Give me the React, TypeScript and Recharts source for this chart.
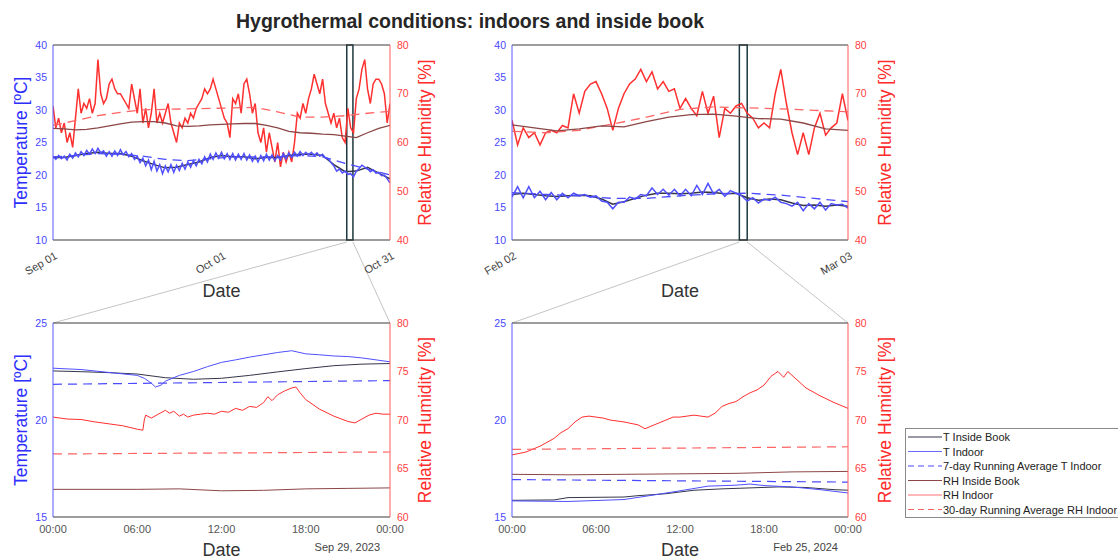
import React from "react";
import { LineChart, Line, XAxis, YAxis, ReferenceLine, ReferenceArea } from "recharts";

const FONT = '"Liberation Sans", Arial, Helvetica, sans-serif';

// ---- legend ----
const seriesNames = [
  "T Inside Book",
  "T Indoor",
  "7-day Running Average T Indoor",
  "RH Inside Book",
  "RH Indoor",
  "30-day Running Average RH Indoor",
];

// ---- Sep 01 – Oct 31, 2023 (x = days since Sep 01) ----
const sepTickDays = [0, 30, 60];
const sepTickLabels = ["Sep 01", "Oct 01", "Oct 31"];
const sepZoomDays = [52.3, 53.4];

// every 12 h
const sepRhIndoor = [
  67.5, 63, 65, 62, 64, 60, 62, 59, 65, 71, 66, 68, 67, 69, 66, 68, 77, 70, 68, 69,
  72, 73, 71, 70, 70, 69, 68, 67, 72, 69, 66, 71, 64, 67, 63, 66, 71, 64, 66, 64,
  66, 68, 64, 62, 60, 64, 63, 65, 64, 66, 65, 67, 68, 69, 71, 70, 71, 73, 71, 69,
  67, 65, 64, 61, 69, 68, 70, 66, 72, 73, 70, 66, 68, 62, 60, 63, 58, 62, 59, 56,
  60, 55, 58, 56, 58, 56, 60, 66, 65, 68, 66, 69, 71, 74, 72, 70, 73, 68, 66, 64,
  66, 63, 65, 61, 60, 67, 63, 62, 69, 71, 75, 77, 71, 68, 72, 73, 73, 72, 70, 64,
  68,
];
const sepTIndoor = [
  22.9, 22.4, 23.0, 22.5, 22.9, 22.3, 23.2, 22.6, 23.4, 22.8, 23.6, 23.0, 23.8, 23.2, 24.0, 23.3,
  24.1, 23.4, 23.7, 22.9, 23.6, 22.9, 23.7, 23.0, 23.9, 23.1, 23.6, 22.8, 23.3, 22.4, 22.9, 21.9,
  22.6, 21.4, 22.3, 20.8, 22.1, 20.6, 21.6, 20.2, 21.4, 20.5, 21.6, 20.4, 21.5, 20.7, 21.8, 20.9,
  22.0, 21.2, 22.2, 21.4, 22.4, 21.7, 22.8, 22.0, 23.2, 22.4, 23.4, 22.6, 23.5, 22.5, 23.3, 22.4,
  23.3, 22.3, 23.2, 22.4, 23.3, 22.3, 23.1, 22.1, 22.9, 22.0, 23.0, 22.2, 23.2, 22.3, 23.1, 22.2,
  23.0, 22.3, 23.3, 22.5, 23.4, 22.7, 23.5, 22.9, 23.6, 23.0, 23.5, 23.1, 23.5, 23.0, 23.4, 22.9,
  23.2, 22.6, 22.5, 21.9, 21.4, 20.6, 20.9, 20.3, 20.6, 20.1, 20.2, 19.7, 20.6, 21.0, 21.5, 21.2,
  21.0, 20.5, 20.8, 20.3, 20.4, 19.9, 20.0, 19.4, 18.8,
];
// every 2 days
const sepTBook = [
  22.7, 22.7, 23.0, 23.3, 23.5, 23.3, 23.3, 22.9, 22.2, 21.6, 21.1, 21.2, 21.6, 22.0, 22.7, 23.0,
  22.8, 22.8, 22.5, 22.7, 22.7, 23.0, 23.2, 23.2, 23.0, 21.6, 20.5, 20.6, 21.2, 20.3, 19.4,
];
const sepRhBook = [
  62.9, 62.8, 62.6, 62.7, 63.0, 63.4, 63.8, 64.2, 64.3, 64.3, 64.0, 63.4, 63.3, 63.4, 63.6, 63.7,
  63.8, 63.9, 63.9, 63.5, 63.0, 62.3, 62.0, 61.9, 61.7, 61.6, 61.3, 61.0, 62.0, 62.9, 63.5,
];
// every 4 days
const sepTAvg = [22.8, 23.0, 23.3, 23.2, 22.9, 22.4, 22.2, 22.5, 22.8, 22.8, 22.8, 23.0, 22.8, 21.8, 20.9, 20.0];
const sepRhAvg = [63.5, 64.5, 65.5, 66.2, 66.7, 66.8, 66.9, 67.0, 67.1, 67.2, 66.3, 65.2, 65.2, 65.5, 66.0, 66.4];

// ---- Feb 02 – Mar 03, 2024 (x = days since Feb 02) ----
const febTickDays = [0, 30];
const febTickLabels = ["Feb 02", "Mar 03"];
const febZoomDays = [20.3, 21.0];

// every 12 h
const febRhIndoor = [
  64.6, 59.5, 63, 61, 62, 59.5, 62, 62.5, 62, 63.5, 63, 70, 66, 70.5, 72, 72.5, 70, 67, 62.5, 67,
  70, 72, 73, 75, 72.5, 74.5, 71, 72.5, 70.5, 71, 67, 69, 67, 65.5, 70.5, 66, 69.5, 61, 67, 66,
  67.5, 68, 66, 65, 63, 64, 63, 70, 75, 68, 62, 57.5, 62, 57.5, 63, 66, 61.5, 63, 64, 70, 64.5,
];
const febTIndoor = [
  16.6, 18.2, 16.5, 18.2, 16.5, 17.5, 16.2, 17.3, 16.2, 17.2, 16.5, 17.2, 16.8, 17.0, 16.6, 16.8,
  16.0, 15.8, 14.8, 15.8, 15.8, 16.6, 16.3, 17.0, 16.8, 18.0, 17.0, 17.8, 16.9, 17.8, 16.8, 17.8,
  16.8, 18.4, 17.0, 18.7, 17.1, 17.8, 16.7, 17.6, 17.2, 16.8, 16.0, 16.5, 15.7, 16.3, 16.1, 16.6,
  15.8, 15.6, 15.2, 15.8, 14.5, 15.6, 14.8, 15.8, 14.6, 15.6, 15.4, 15.5, 14.9,
];
// daily
const febTBook = [
  17.0, 17.2, 17.0, 16.8, 16.7, 16.8, 16.9, 16.8, 16.3, 15.5, 15.9, 16.4, 16.9, 17.2, 17.2, 17.1,
  17.2, 17.4, 17.3, 17.1, 17.2, 16.5, 16.1, 16.3, 16.2, 15.7, 15.3, 15.4, 15.2, 15.4, 15.2,
];
// every 2 days
const febRhBook = [63.6, 63.0, 62.4, 62.8, 63.4, 63.2, 64.3, 65.2, 65.7, 65.8, 65.4, 64.9, 64.8, 64.0, 62.8, 62.5];
// every 3 days
const febTAvg = [17.3, 17.0, 16.8, 16.4, 16.4, 16.8, 17.1, 17.2, 16.9, 16.4, 15.9];
const febRhAvg = [62.3, 62.0, 62.5, 63.8, 65.2, 66.8, 67.3, 67.1, 66.9, 66.6, 66.3];

// ---- one-day details (x = hour of day) ----
const hourTicks = [0, 6, 12, 18, 24];
const hourLabels = ["00:00", "06:00", "12:00", "18:00", "00:00"];

// Sep 29, 2023
const s29TIndoorH = [0, 2, 4, 6, 6.5, 7, 7.3, 7.7, 8, 9, 10, 11, 12, 13, 14, 15, 16, 17, 18, 19, 20, 21, 22, 23, 24];
const s29TIndoor = [22.67, 22.6, 22.45, 22.3, 22.15, 21.9, 21.7, 21.8, 22.0, 22.3, 22.5, 22.75, 22.97, 23.1, 23.24, 23.36, 23.48, 23.57, 23.41, 23.36, 23.3, 23.27, 23.2, 23.1, 23.0];
const s29TBookH = [0, 2, 4, 6, 8, 10, 12, 14, 16, 18, 20, 22, 24];
const s29TBook = [22.53, 22.49, 22.44, 22.37, 22.18, 22.1, 22.15, 22.3, 22.48, 22.65, 22.8, 22.88, 22.91];
const s29TAvgH = [0, 24];
const s29TAvg = [21.84, 22.03];
const s29RhIndoorH = [
  0, 1, 2, 3, 4, 5, 6, 6.4, 6.5, 6.6, 7, 7.5, 8, 8.3, 8.6, 9, 9.3, 9.6, 10, 10.5, 11, 11.5, 12, 12.5,
  13, 13.5, 14, 14.5, 15, 15.3, 15.6, 16, 16.5, 17, 17.3, 17.6, 18, 19, 20, 21, 21.5, 22, 22.5, 23, 23.5, 24,
];
const s29RhIndoor = [
  70.3, 70.1, 70.05, 69.8, 69.6, 69.4, 69.05, 68.95, 70.0, 70.5, 70.2, 70.6, 71.0, 70.7, 70.9, 70.4,
  70.6, 70.3, 70.5, 70.6, 70.7, 70.6, 70.9, 70.8, 71.2, 71.0, 71.4, 71.3, 71.8, 72.4, 72.0, 72.6,
  73.0, 73.3, 73.4, 72.8, 72.1, 71.1, 70.4, 69.85, 69.7, 70.1, 70.5, 70.7, 70.6, 70.6,
];
const s29RhBookH = [0, 6, 9, 12, 15, 18, 21, 24];
const s29RhBook = [62.85, 62.85, 62.9, 62.7, 62.75, 62.9, 62.95, 63.0];
const s29RhAvgH = [0, 24];
const s29RhAvg = [66.5, 66.7];

// Feb 25, 2024
const f25TIndoorH = [0, 4, 8, 10, 12, 14, 16, 17, 18, 20, 22, 24];
const f25TIndoor = [15.83, 15.8, 15.9, 16.12, 16.35, 16.59, 16.64, 16.7, 16.62, 16.55, 16.41, 16.24];
const f25TBookH = [0, 3, 4, 8, 9, 11, 13, 15, 17, 19, 21, 23, 24];
const f25TBook = [15.86, 15.88, 16.0, 16.03, 16.1, 16.2, 16.38, 16.45, 16.5, 16.55, 16.52, 16.41, 16.38];
const f25TAvgH = [0, 24];
const f25TAvg = [16.93, 16.8];
const f25RhIndoorH = [
  0, 1, 2, 3, 3.5, 4, 4.5, 5, 5.5, 6, 6.5, 7, 8, 9, 9.5, 10, 10.5, 11, 11.5, 12, 13, 14, 14.5, 15,
  15.5, 16, 16.5, 17, 17.5, 18, 18.5, 19, 19.4, 19.7, 21, 22, 23, 23.5, 24,
];
const f25RhIndoor = [
  66.4, 66.7, 67.3, 68.1, 68.7, 69.1, 69.8, 70.3, 70.4, 70.3, 70.2, 70.0, 69.8, 69.5, 69.1, 69.4,
  69.7, 70.0, 70.3, 70.3, 70.5, 70.3, 70.7, 71.4, 71.7, 71.9, 72.4, 72.8, 73.1, 73.6, 74.5, 75.0,
  74.4, 75.0, 73.3, 72.5, 71.8, 71.5, 71.2,
];
const f25RhBookH = [0, 4, 12, 16, 20, 24];
const f25RhBook = [64.4, 64.35, 64.45, 64.5, 64.65, 64.7];
const f25RhAvgH = [0, 24];
const f25RhAvg = [66.97, 67.24];

// ---- helpers ----
type Pt = { x: number; v: number };
const everyStep = (vals: number[], step: number): Pt[] => vals.map((v, i) => ({ x: i * step, v }));
const atHours = (hrs: number[], vals: number[]): Pt[] => hrs.map((h, i) => ({ x: h, v: vals[i] }));

const COLORS = {
  tBook: "#35354a",
  tIndoor: "#5050ff",
  tAvg: "#4a4aff",
  rhBook: "#8c4646",
  rhIndoor: "#ff3030",
  rhAvg: "#ff6464",
  blueTxt: "#2e2eff",
  redTxt: "#ff2a2a",
  box: "#3a3a3a",
};
const legendStyles = [
  { c: COLORS.tBook, d: false },
  { c: "#6a6aff", d: false },
  { c: COLORS.tAvg, d: true },
  { c: COLORS.rhBook, d: false },
  { c: "#ff7070", d: false },
  { c: COLORS.rhAvg, d: true },
];

const YW = 40;
const MT = 5;

type Box = { l: number; t: number; w: number; h: number };
const TL: Box = { l: 53, t: 45, w: 337, h: 195 };
const TR: Box = { l: 512, t: 45, w: 336, h: 195 };
const BL: Box = { l: 53, t: 323, w: 337, h: 194 };
const BR: Box = { l: 512, t: 323, w: 336, h: 194 };

type Series = { tBook: Pt[]; tIndoor: Pt[]; tAvg: Pt[]; rhBook: Pt[]; rhIndoor: Pt[]; rhAvg: Pt[] };

function RotTick(props: any) {
  const { x, y, payload, labels, ticks } = props;
  const label = labels[ticks.indexOf(payload.value)];
  const ax = x + 5;
  const ay = y + 10;
  return (
    <text x={ax} y={ay} transform={`rotate(-30 ${ax} ${ay})`} textAnchor="end" fontSize={11} fill="#444" fontFamily={FONT}>
      {label}
    </text>
  );
}

function Panel(props: {
  box: Box;
  xDomain: [number, number];
  xTicks: number[];
  xLabels: string[];
  rotated: boolean;
  tDomain: [number, number];
  tTicks: number[];
  rhDomain: [number, number];
  rhTicks: number[];
  s: Series;
  zoom?: number[];
}) {
  const { box, xDomain, xTicks, xLabels, rotated, tDomain, tTicks, rhDomain, rhTicks, s, zoom } = props;
  const XH = rotated ? 45 : 25;
  const W = box.w + YW * 2;
  const H = box.h + MT + XH;
  const line = (data: Pt[], axis: string, color: string, dashed: boolean, width = 1) => (
    <Line
      data={data}
      dataKey="v"
      yAxisId={axis}
      type="linear"
      stroke={color}
      strokeWidth={width}
      strokeDasharray={dashed ? "9 6" : undefined}
      dot={false}
      activeDot={false}
      isAnimationActive={false}
    />
  );
  const thick = rotated ? 1.5 : 1;
  return (
    <div style={{ position: "absolute", left: box.l - YW, top: box.t - MT }}>
      <LineChart width={W} height={H} margin={{ top: MT, right: 0, bottom: 0, left: 0 }}>
        <XAxis
          dataKey="x"
          type="number"
          domain={xDomain}
          ticks={xTicks}
          interval={0}
          allowDataOverflow
          height={XH}
          stroke={COLORS.box}
          tickLine={false}
          tickSize={0}
          tickMargin={8}
          tick={
            rotated
              ? (p: any) => <RotTick {...p} labels={xLabels} ticks={xTicks} />
              : { fill: "#555", fontSize: 11, fontFamily: FONT }
          }
          tickFormatter={(v: number) => xLabels[xTicks.indexOf(v)]}
        />
        <YAxis
          yAxisId="t"
          orientation="left"
          domain={tDomain}
          ticks={tTicks}
          interval={0}
          allowDataOverflow
          width={YW}
          stroke="#5a5aff"
          tickLine={false}
          tickSize={0}
          tickMargin={6}
          tick={{ fill: "#4848ff", fontSize: 10.5, fontFamily: FONT }}
        />
        <YAxis
          yAxisId="rh"
          orientation="right"
          domain={rhDomain}
          ticks={rhTicks}
          interval={0}
          allowDataOverflow
          width={YW}
          stroke="#ff5a5a"
          tickLine={false}
          tickSize={0}
          tickMargin={7}
          tick={{ fill: "#ff4040", fontSize: 10.5, fontFamily: FONT }}
        />
        <ReferenceLine yAxisId="t" y={tDomain[1]} stroke={COLORS.box} strokeWidth={1} />
        {line(s.rhIndoor, "rh", COLORS.rhIndoor, false, thick)}
        {line(s.rhAvg, "rh", COLORS.rhAvg, true, rotated ? 1.3 : 1.2)}
        {line(s.rhBook, "rh", COLORS.rhBook, false, rotated ? 1.3 : 1)}
        {line(s.tBook, "t", COLORS.tBook, false, thick)}
        {line(s.tIndoor, "t", COLORS.tIndoor, false, thick)}
        {line(s.tAvg, "t", COLORS.tAvg, true, rotated ? 1.3 : 1.2)}
        {zoom && (
          <ReferenceArea
            yAxisId="t"
            x1={zoom[0]}
            x2={zoom[1]}
            y1={tDomain[0]}
            y2={tDomain[1]}
            fill="none"
            fillOpacity={0}
            stroke="#1c3940"
            strokeWidth={1.5}
          />
        )}
      </LineChart>
    </div>
  );
}

const sepSeries: Series = {
  tBook: everyStep(sepTBook, 2),
  tIndoor: everyStep(sepTIndoor, 0.5),
  tAvg: everyStep(sepTAvg, 4),
  rhBook: everyStep(sepRhBook, 2),
  rhIndoor: everyStep(sepRhIndoor, 0.5),
  rhAvg: everyStep(sepRhAvg, 4),
};
const febSeries: Series = {
  tBook: everyStep(febTBook, 1),
  tIndoor: everyStep(febTIndoor, 0.5),
  tAvg: everyStep(febTAvg, 3),
  rhBook: everyStep(febRhBook, 2),
  rhIndoor: everyStep(febRhIndoor, 0.5),
  rhAvg: everyStep(febRhAvg, 3),
};
const s29Series: Series = {
  tBook: atHours(s29TBookH, s29TBook),
  tIndoor: atHours(s29TIndoorH, s29TIndoor),
  tAvg: atHours(s29TAvgH, s29TAvg),
  rhBook: atHours(s29RhBookH, s29RhBook),
  rhIndoor: atHours(s29RhIndoorH, s29RhIndoor),
  rhAvg: atHours(s29RhAvgH, s29RhAvg),
};
const f25Series: Series = {
  tBook: atHours(f25TBookH, f25TBook),
  tIndoor: atHours(f25TIndoorH, f25TIndoor),
  tAvg: atHours(f25TAvgH, f25TAvg),
  rhBook: atHours(f25RhBookH, f25RhBook),
  rhIndoor: atHours(f25RhIndoorH, f25RhIndoor),
  rhAvg: atHours(f25RhAvgH, f25RhAvg),
};

const px = (b: Box, d: number, span: number) => b.l + (d / span) * b.w;

function AxisTitles({ box, rhX }: { box: Box; rhX: number }) {
  const cy = box.t + box.h / 2;
  return (
    <g fontFamily={FONT} fontSize={17.5} textAnchor="middle">
      {box.l < 100 && (
        <text x={27} y={cy} transform={`rotate(-90 27 ${cy})`} fill={COLORS.blueTxt}>
          Temperature [ºC]
        </text>
      )}
      <text x={rhX} y={cy} transform={`rotate(-90 ${rhX} ${cy})`} fill={COLORS.redTxt}>
        Relative Humidity [%]
      </text>
    </g>
  );
}

export default function App() {
  const tlZ = [px(TL, sepZoomDays[0], 60), px(TL, sepZoomDays[1], 60)];
  const trZ = [px(TR, febZoomDays[0], 30), px(TR, febZoomDays[1], 30)];
  const tlB = TL.t + TL.h;
  return (
    <div style={{ position: "absolute", left: 0, top: 0, width: 1118, height: 559, background: "#fff", fontFamily: FONT, overflow: "hidden" }}>
      <svg width={1118} height={559} style={{ position: "absolute", left: 0, top: 0 }}>
        <text x={470} y={28} textAnchor="middle" fontSize={19.5} fontWeight="bold" fill="#262626" fontFamily={FONT}>
          Hygrothermal conditions: indoors and inside book
        </text>
        {/* zoom connectors */}
        <g stroke="#c4c4c4" strokeWidth={1}>
          <line x1={tlZ[0]} y1={tlB + 2} x2={BL.l} y2={BL.t} />
          <line x1={tlZ[1]} y1={tlB + 2} x2={BL.l + BL.w} y2={BL.t} />
          <line x1={trZ[0]} y1={tlB + 2} x2={BR.l} y2={BR.t} />
          <line x1={trZ[1]} y1={tlB + 2} x2={BR.l + BR.w} y2={BR.t} />
        </g>
        <AxisTitles box={TL} rhX={431} />
        <AxisTitles box={TR} rhX={891} />
        <AxisTitles box={BL} rhX={431} />
        <AxisTitles box={BR} rhX={891} />
        <g fontFamily={FONT} fill="#333" textAnchor="middle" fontSize={18}>
          <text x={TL.l + TL.w / 2} y={297}>Date</text>
          <text x={TR.l + TR.w / 2} y={297}>Date</text>
          <text x={BL.l + BL.w / 2} y={556}>Date</text>
          <text x={BR.l + BR.w / 2} y={556}>Date</text>
        </g>
        <g fontFamily={FONT} fill="#444" textAnchor="end" fontSize={11}>
          <text x={380} y={551}>Sep 29, 2023</text>
          <text x={838} y={551}>Feb 25, 2024</text>
        </g>
        {/* legend */}
        <g fontFamily={FONT} fontSize={11}>
          <rect x={905.5} y={428.5} width={220} height={89} fill="#fff" stroke="#8a8a8a" strokeWidth={1} />
          {seriesNames.map((n, i) => {
            const y = 437 + i * 14.5;
            return (
              <g key={n}>
                <line x1={908} x2={942} y1={y} y2={y} stroke={legendStyles[i].c} strokeWidth={1.2} strokeDasharray={legendStyles[i].d ? "6 4" : undefined} />
                <text x={943} y={y + 4} fill="#222">{n}</text>
              </g>
            );
          })}
        </g>
      </svg>
      <Panel box={TL} xDomain={[0, 60]} xTicks={sepTickDays} xLabels={sepTickLabels} rotated tDomain={[10, 40]} tTicks={[10, 15, 20, 25, 30, 35, 40]} rhDomain={[40, 80]} rhTicks={[40, 50, 60, 70, 80]} s={sepSeries} zoom={sepZoomDays} />
      <Panel box={TR} xDomain={[0, 30]} xTicks={febTickDays} xLabels={febTickLabels} rotated tDomain={[10, 40]} tTicks={[10, 15, 20, 25, 30, 35, 40]} rhDomain={[40, 80]} rhTicks={[40, 50, 60, 70, 80]} s={febSeries} zoom={febZoomDays} />
      <Panel box={BL} xDomain={[0, 24]} xTicks={hourTicks} xLabels={hourLabels} rotated={false} tDomain={[15, 25]} tTicks={[15, 20, 25]} rhDomain={[60, 80]} rhTicks={[60, 65, 70, 75, 80]} s={s29Series} />
      <Panel box={BR} xDomain={[0, 24]} xTicks={hourTicks} xLabels={hourLabels} rotated={false} tDomain={[15, 25]} tTicks={[15, 20, 25]} rhDomain={[60, 80]} rhTicks={[60, 65, 70, 75, 80]} s={f25Series} />
    </div>
  );
}
